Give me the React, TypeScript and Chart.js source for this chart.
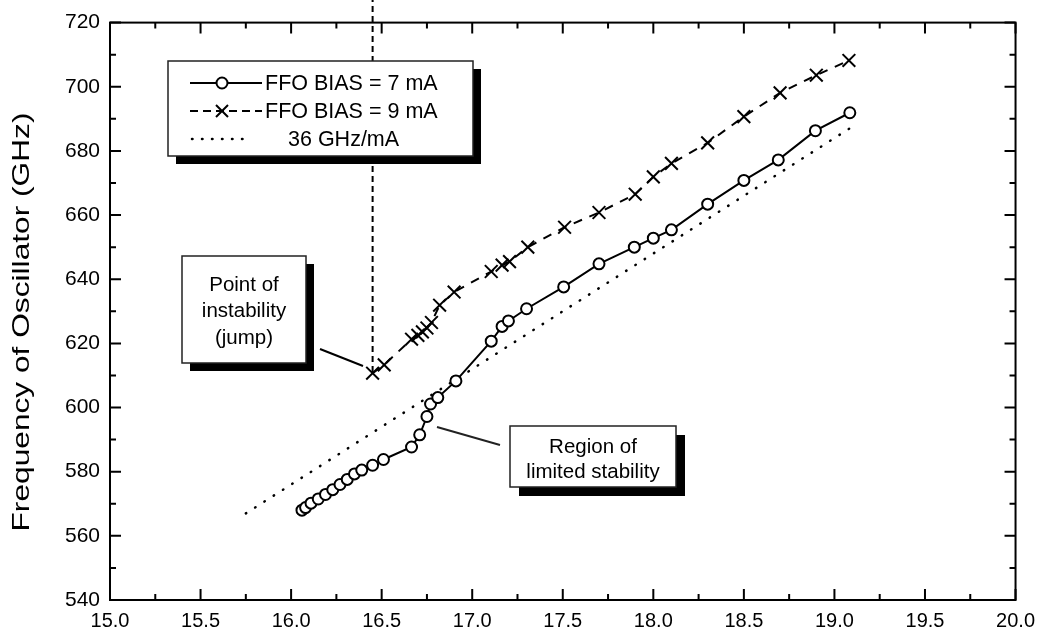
import React, { useEffect, useRef } from "react";
import { Chart, registerables } from "chart.js";

Chart.register(...registerables);

// FFO BIAS = 7 mA (circles, solid line)
const bias7Current = [16.06, 16.08, 16.11, 16.15, 16.19, 16.23, 16.27, 16.31, 16.35, 16.39, 16.45, 16.51, 16.665, 16.71, 16.75, 16.77, 16.81, 16.91, 17.105, 17.165, 17.2, 17.3, 17.505, 17.7, 17.895, 18.0, 18.1, 18.3, 18.5, 18.69, 18.895, 19.085];
const bias7Freq = [568.0, 568.8, 570.2, 571.5, 572.9, 574.4, 576.0, 577.6, 579.3, 580.5, 582.0, 583.8, 587.7, 591.5, 597.2, 601.1, 603.1, 608.3, 620.7, 625.3, 627.0, 630.8, 637.6, 644.8, 650.0, 652.8, 655.4, 663.4, 670.8, 677.2, 686.3, 691.9];

// FFO BIAS = 9 mA (crosses, dashed line) - first point is the jump from far above the axis
const bias9Current = [16.45, 16.45, 16.514, 16.665, 16.7, 16.725, 16.75, 16.775, 16.82, 16.9, 17.105, 17.165, 17.206, 17.307, 17.51, 17.7, 17.9, 18.0, 18.1, 18.3, 18.5, 18.7, 18.9, 19.08];
const bias9Freq = [800, 610.7, 613.3, 621.3, 622.5, 623.6, 624.8, 626.5, 631.9, 636.0, 642.4, 644.4, 645.5, 650.0, 656.2, 660.8, 666.5, 671.9, 676.1, 682.5, 690.7, 698.1, 703.6, 708.2];

// 36 GHz/mA reference line
const slopeCurrent = [15.75, 19.09];
const slopeFreq = [567.0, 687.24];

const xMin = 15.0;
const xMax = 20.0;
const xMajorStep = 0.5;
const xMinorStep = 0.25;
const yMin = 540;
const yMax = 720;
const yMajorStep = 20;
const yMinorStep = 10;

const legendLabels = ["FFO BIAS = 7 mA", "FFO BIAS = 9 mA", "36 GHz/mA"];
const yTitle = "Frequency of Oscillator (GHz)";
const noteJump = ["Point of", "instability", "(jump)"];
const noteRegion = ["Region of", "limited stability"];

const FONT = '"Liberation Sans", Arial, sans-serif';
const NARROW = '"Liberation Sans Narrow", "Liberation Sans", Arial, sans-serif';

function pts(xs: number[], ys: number[]) {
  return xs.map((x, i) => ({ x, y: ys[i] }));
}

function shadowBox(ctx: CanvasRenderingContext2D, x: number, y: number, w: number, h: number, off: number) {
  ctx.fillStyle = "#000";
  ctx.fillRect(x + off, y + off, w, h);
  ctx.fillStyle = "#fff";
  ctx.fillRect(x, y, w, h);
  ctx.strokeStyle = "#222";
  ctx.lineWidth = 1.5;
  ctx.setLineDash([]);
  ctx.strokeRect(x, y, w, h);
}

const decorPlugin = {
  id: "decor",
  afterDatasetsDraw(chart: any) {
    const ctx: CanvasRenderingContext2D = chart.ctx;
    ctx.save();
    // Legend box
    shadowBox(ctx, 168, 61, 305, 95, 8);
    ctx.strokeStyle = "#000";
    ctx.fillStyle = "#000";
    ctx.lineWidth = 2;
    // row 1
    let ry = 83;
    ctx.setLineDash([]);
    ctx.beginPath(); ctx.moveTo(190, ry); ctx.lineTo(262, ry); ctx.stroke();
    ctx.beginPath(); ctx.arc(222, ry, 5.5, 0, Math.PI * 2); ctx.fillStyle = "#fff"; ctx.fill(); ctx.stroke();
    // row 2
    ry = 111;
    ctx.setLineDash([8, 5]);
    ctx.beginPath(); ctx.moveTo(190, ry); ctx.lineTo(262, ry); ctx.stroke();
    ctx.setLineDash([]);
    ctx.beginPath(); ctx.moveTo(216, ry - 6); ctx.lineTo(228, ry + 6); ctx.moveTo(228, ry - 6); ctx.lineTo(216, ry + 6); ctx.stroke();
    // row 3
    ry = 139;
    ctx.lineWidth = 2.5;
    ctx.lineCap = "round";
    ctx.setLineDash([0.5, 9.5]);
    ctx.beginPath(); ctx.moveTo(192, ry); ctx.lineTo(252, ry); ctx.stroke();
    ctx.lineCap = "butt";
    ctx.setLineDash([]);
    ctx.fillStyle = "#000";
    ctx.font = "21.5px " + FONT;
    ctx.textBaseline = "middle";
    ctx.textAlign = "left";
    ctx.fillText(legendLabels[0], 265, 84);
    ctx.fillText(legendLabels[1], 265, 112);
    ctx.fillText(legendLabels[2], 288, 140);

    // Note: point of instability
    shadowBox(ctx, 182, 256, 124, 107, 8);
    ctx.fillStyle = "#000";
    ctx.font = "20.5px " + FONT;
    ctx.textAlign = "center";
    noteJump.forEach((t, i) => ctx.fillText(t, 244, 285 + i * 26.5));
    ctx.lineWidth = 2;
    ctx.strokeStyle = "#000";
    ctx.beginPath(); ctx.moveTo(320, 349); ctx.lineTo(363, 366); ctx.stroke();

    // Note: region of limited stability
    shadowBox(ctx, 510, 426, 166, 61, 9);
    ctx.fillStyle = "#000";
    ctx.font = "20.5px " + FONT;
    ctx.textAlign = "center";
    noteRegion.forEach((t, i) => ctx.fillText(t, 593, 447 + i * 25));
    ctx.lineWidth = 2;
    ctx.beginPath(); ctx.moveTo(437, 427); ctx.lineTo(500, 445); ctx.stroke();
    ctx.restore();
  },
  afterDraw(chart: any) {
    const ctx: CanvasRenderingContext2D = chart.ctx;
    const a = chart.chartArea;
    const xs = chart.scales.x;
    const ys = chart.scales.y;
    ctx.save();
    ctx.strokeStyle = "#000";
    ctx.lineWidth = 2;
    ctx.setLineDash([]);
    ctx.strokeRect(a.left, a.top, a.right - a.left, a.bottom - a.top);
    ctx.beginPath();
    const nx = Math.round((xMax - xMin) / xMinorStep);
    for (let i = 0; i <= nx; i++) {
      const v = xMin + i * xMinorStep;
      const px = xs.getPixelForValue(v);
      const major = Math.abs(v / xMajorStep - Math.round(v / xMajorStep)) < 1e-6;
      const L = major ? 11 : 6;
      ctx.moveTo(px, a.bottom); ctx.lineTo(px, a.bottom - L);
      ctx.moveTo(px, a.top); ctx.lineTo(px, a.top + L);
    }
    const ny = Math.round((yMax - yMin) / yMinorStep);
    for (let i = 0; i <= ny; i++) {
      const v = yMin + i * yMinorStep;
      const py = ys.getPixelForValue(v);
      const major = Math.abs(v / yMajorStep - Math.round(v / yMajorStep)) < 1e-6;
      const L = major ? 11 : 6;
      ctx.moveTo(a.left, py); ctx.lineTo(a.left + L, py);
      ctx.moveTo(a.right, py); ctx.lineTo(a.right - L, py);
    }
    ctx.stroke();

    // Y axis title (wide lettering)
    ctx.translate(22, 322);
    ctx.rotate(-Math.PI / 2);
    ctx.scale(1.32, 1);
    ctx.fillStyle = "#000";
    ctx.font = "24px " + FONT;
    ctx.textAlign = "center";
    ctx.textBaseline = "middle";
    ctx.fillText(yTitle, 0, 0);
    ctx.restore();
  },
};

export default function App() {
  const ref = useRef<HTMLCanvasElement>(null);
  useEffect(() => {
    if (!ref.current) return;
    const chart = new Chart(ref.current, {
      type: "scatter",
      data: {
        datasets: [
          {
            label: legendLabels[0],
            data: pts(bias7Current, bias7Freq),
            showLine: true,
            borderColor: "#000",
            borderWidth: 2,
            pointStyle: "circle",
            pointRadius: 5.5,
            pointBorderWidth: 2,
            pointBackgroundColor: "#fff",
            pointBorderColor: "#000",
          },
          {
            label: legendLabels[1],
            data: pts(bias9Current, bias9Freq),
            showLine: true,
            clip: false,
            borderColor: "#000",
            borderWidth: 2,
            borderDash: [9, 8],
            segment: {
              borderDash: (c: any) => (c.p0DataIndex === 0 ? [6, 4] : [9, 8]),
            },
            pointStyle: "crossRot",
            pointRadius: (c: any) => (c.dataIndex === 0 ? 0 : 9),
            pointBorderWidth: 2,
            pointBorderColor: "#000",
          },
          {
            label: legendLabels[2],
            data: pts(slopeCurrent, slopeFreq),
            showLine: true,
            borderColor: "#000",
            borderWidth: 2.5,
            borderCapStyle: "round",
            borderDash: [0.5, 10.5],
            pointRadius: 0,
          },
        ],
      },
      options: {
        animation: false,
        responsive: false,
        layout: { padding: { top: 18, right: 26, left: 0, bottom: 0 } },
        plugins: { legend: { display: false }, tooltip: { enabled: false } },
        scales: {
          x: {
            type: "linear",
            min: xMin,
            max: xMax,
            grid: { display: false, drawTicks: false },
            border: { display: false },
            ticks: {
              stepSize: xMajorStep,
              autoSkip: false,
              maxRotation: 0,
              padding: 9,
              color: "#000",
              font: { family: NARROW, size: 20 },
              callback: (v: any) => Number(v).toFixed(1),
            },
            afterFit: (s: any) => { s.height = 36; },
          },
          y: {
            type: "linear",
            min: yMin,
            max: yMax,
            grid: { display: false, drawTicks: false },
            border: { display: false },
            ticks: {
              stepSize: yMajorStep,
              padding: 10,
              color: "#000",
              font: { family: FONT, size: 21 },
            },
            afterFit: (s: any) => { s.width = 110; },
          },
        },
      },
      plugins: [decorPlugin],
    });
    return () => chart.destroy();
  }, []);
  return (
    <div style={{ position: "fixed", left: 0, top: 0, width: 1044, height: 636, background: "#fff" }}>
      <canvas ref={ref} width={1044} height={636} />
    </div>
  );
}
